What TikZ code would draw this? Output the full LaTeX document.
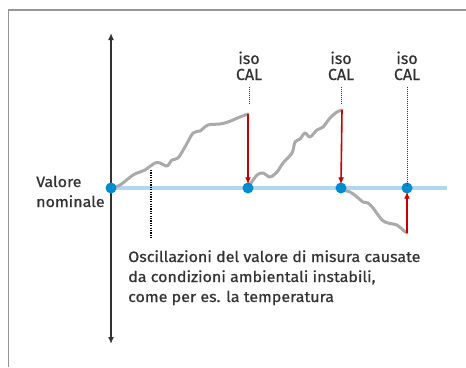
\documentclass[tikz,border=0pt]{standalone}
\usepackage{fontspec}
\setmainfont{Fira Sans}
\newfontfamily\medfont{Fira Sans}[FakeBold=0.7]
\newfontfamily\medwidefont{Fira Sans}[FakeBold=0.7,FakeStretch=1.07]
\usetikzlibrary{arrows.meta}
\definecolor{txt}{RGB}{51,51,51}
\definecolor{framegray}{RGB}{150,150,150}
\definecolor{curvegray}{RGB}{170,170,170}
\definecolor{baseblue}{RGB}{178,214,240}
\definecolor{dotblue}{RGB}{0,140,210}
\definecolor{calred}{RGB}{200,0,0}
\tikzset{
  dotnode/.style={circle,fill=dotblue,inner sep=0pt,minimum size=11pt},
  callabel/.style={font=\medfont\fontsize{16}{16}\selectfont,text=txt,align=center,inner sep=0pt,anchor=base},
  drift/.style={draw=curvegray,line width=3pt,line cap=round,line join=round},
  calarrow/.style={draw=calred,line width=1.6pt,-{Latex[length=7pt,width=6pt]}},
  guide/.style={draw=txt,line width=0.8pt,dash pattern=on 1pt off 1pt},
  axisline/.style={draw=txt,line width=1.5pt,{Latex[length=7pt,width=6pt]}-{Latex[length=7pt,width=6pt]}},
  bodytext/.style={font=\medwidefont\fontsize{15}{20}\selectfont,text=txt,align=left,inner sep=0pt}
}
\begin{document}
\begin{tikzpicture}[x=1pt,y=-1pt]
\useasboundingbox (0,0) rectangle (466,367);
\draw[framegray,line width=1.2pt] (8.5,367) -- (8.5,10) -- (466,10);
% axis
\coordinate (axtop) at (111,33);
\coordinate (axbot) at (111,344);
\draw[axisline] (axbot) -- (axtop);
% baseline
\coordinate (bl0) at (111,188);
\coordinate (bl1) at (447,188);
\draw[baseblue,line width=4pt] (bl0) -- (bl1);
% curves
\draw[drift] plot[smooth,tension=0.5] coordinates {(111,188) (120,185) (133,175) (140,172) (145,170) (155,163) (160,163) (167,166) (172,160) (178,158) (185,147) (193,133) (200,131) (208,125) (220,124) (228,122) (240,117) (248,114)};
\draw[drift] plot[smooth,tension=0.5] coordinates {(249,186) (257,175) (263,173) (270,177) (277,172) (283,163) (292,153) (295,142) (300,139) (305,133) (310,137) (317,130) (323,127) (330,118) (337,112) (342,110)};
\draw[drift] plot[smooth,tension=0.5] coordinates {(342,190) (350,192) (357,197) (363,202) (368,203) (373,208) (382,220) (388,223) (397,225) (403,230) (407,233)};
% dots
\node[dotnode] (d0) at (111,188) {};
\node[dotnode] (d1) at (248,188) {};
\node[dotnode] (d2) at (341,188) {};
\node[dotnode] (d3) at (407,188) {};
% red arrows
\coordinate (r1) at (248,114);
\coordinate (r2) at (342,110);
\coordinate (r3) at (407,233);
\draw[calarrow] (r1) -- ([yshift=-2pt]d1.north);
\draw[calarrow] (r2) -- ([yshift=-2pt]d2.north);
\draw[calarrow] (r3) -- ([yshift=2pt]d3.south);
% labels
\node[callabel] (c1) at (249,80) {iso\\CAL};
\node[callabel] (c2) at (341,80) {iso\\CAL};
\node[callabel] (c3) at (407,80) {iso\\CAL};
\coordinate (t1) at (249,87);
\coordinate (t2) at (341,87);
\coordinate (t3) at (407,87);
\coordinate (g1) at (249,104);
\coordinate (g2) at (341,104);
\draw[guide] (t1) -- (g1);
\draw[guide] (t2) -- (g2);
\draw[guide] (t3) -- ([yshift=-3pt]d3.north);
% dotted marker
\coordinate (m0) at (151,170);
\coordinate (m1) at (151,238);
\draw[draw=black,line width=1.6pt,dash pattern=on 1.2pt off 1.2pt] (m0) -- (m1);
% texts
\node[bodytext,anchor=base west] (vn) at (36,207) {Valore\\nominale};
\node[bodytext,anchor=base west] (osc) at (128,302) {Oscillazioni del valore di misura causate\\da condizioni ambientali instabili,\\come per es. la temperatura};
\end{tikzpicture}
\end{document}
